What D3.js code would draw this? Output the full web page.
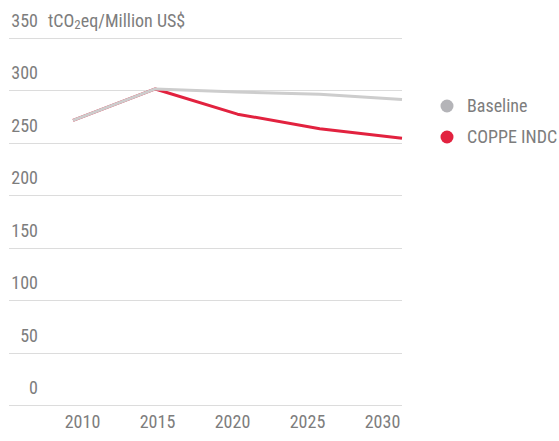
<!DOCTYPE html>
<html><head><meta charset="utf-8">
<script src="https://cdn.jsdelivr.net/npm/d3@7"></script>
<style>
body{margin:0;background:#fff;}
text{font-family:"Liberation Sans Narrow","Roboto Condensed","Liberation Sans",sans-serif;fill:#7d7d7d;}
</style></head><body>
<svg id="c" width="559" height="441"></svg>
<script>
const years = [2010, 2015, 2020, 2025, 2030];
const baseline = [271, 301, 298, 296, 291];
const coppe = [271, 301, 277, 263, 254];
const yTicks = [0, 50, 100, 150, 200, 250, 300, 350];
const seriesNames = ["Baseline", "COPPE INDC"];
const lineColors = ["#cdcdcd", "#e2223f"];
const dotColors = ["#b4b4b8", "#e2223f"];

const svg = d3.select("#c");
const y = d3.scaleLinear().domain([0, 350]).range([405, 37.5]);
const x = d3.scaleLinear().domain([2010, 2030]).range([73, 402]);
const xLab = d3.scaleLinear().domain([2010, 2030]).range([82, 382]);

// grid lines
svg.append("g").selectAll("line").data(yTicks).join("line")
  .attr("x1", 9).attr("x2", 402)
  .attr("y1", d => Math.round(y(d)) + 0.5).attr("y2", d => Math.round(y(d)) + 0.5)
  .attr("stroke", "#dcdcdc").attr("stroke-width", 1);

// y labels
svg.append("g").selectAll("text").data(yTicks).join("text")
  .attr("x", 38).attr("y", d => y(d) - 11)
  .attr("text-anchor", "end").attr("font-size", 18)
  .text(d => d);

// unit title
const t = svg.append("text").attr("x", 48).attr("y", y(350) - 11).attr("font-size", 18);
t.append("tspan").text("tCO");
t.append("tspan").attr("font-size", 13).attr("dy", 2).text("2");
t.append("tspan").attr("dy", -2).text("eq/Million US$");

// x axis labels
const xAxis = d3.axisBottom(xLab).tickValues(years).tickFormat(d3.format("d")).tickSize(0).tickPadding(0);
const gx = svg.append("g").attr("transform", "translate(0,422)").call(xAxis);
gx.select(".domain").remove();
gx.selectAll("text").attr("font-size", 18).attr("dy", "0.32em")
  .style("font-family", '"Liberation Sans Narrow","Roboto Condensed",sans-serif').attr("fill", "#7d7d7d");

// lines (COPPE first, baseline on top)
const line = d3.line().x((d, i) => x(years[i])).y(d => y(d));
[[coppe, 1], [baseline, 0]].forEach(([s, i]) => {
  svg.append("path").datum(s).attr("d", line)
    .attr("fill", "none").attr("stroke", lineColors[i]).attr("stroke-width", 3)
    .attr("stroke-linejoin", "round");
});

// legend
const lg = svg.append("g").selectAll("g").data(seriesNames).join("g")
  .attr("transform", (d, i) => `translate(447,${106 + i * 31})`);
lg.append("circle").attr("r", 6.5).attr("fill", (d, i) => dotColors[i]);
lg.append("text").attr("x", 20).attr("dy", "0.35em").attr("font-size", 18).text(d => d);
</script>
</body></html>
